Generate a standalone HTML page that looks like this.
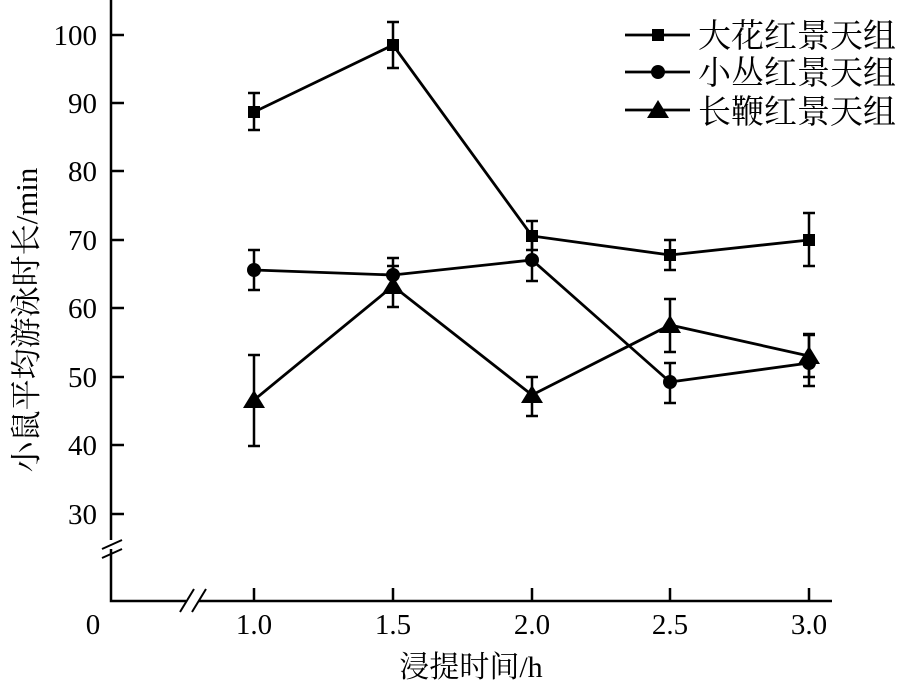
<!DOCTYPE html><html><head><style>body{margin:0;background:#fff}svg text{font-family:"Liberation Serif","Noto Serif CJK SC",serif}</style></head><body>
<svg width="907" height="689" xmlns="http://www.w3.org/2000/svg">
<g stroke="#000" stroke-width="2.5" fill="none">
<path d="M111,0V540M111,549V601H186M199,601H832"/>
<path d="M102,549L122,540M102,558L122,549" stroke-width="2"/>
<path d="M180,612L194,589M192,612L206,589" stroke-width="2"/>
<path d="M111,35h13M111,103h13M111,171h13M111,240h13M111,308h13M111,377h13M111,445h13M111,514h13"/>
<path d="M254,601v-13M393,601v-13M532,601v-13M670,601v-13M809,601v-13"/>
</g>
<g font-size="29" text-anchor="end">
<text x="97" y="45">100</text><text x="97" y="113">90</text><text x="97" y="181">80</text><text x="97" y="250">70</text><text x="97" y="318">60</text><text x="97" y="387">50</text><text x="97" y="455">40</text><text x="97" y="524">30</text></g>
<g font-size="29" text-anchor="middle">
<text x="93" y="634">0</text><text x="254" y="634">1.0</text><text x="393" y="634">1.5</text><text x="532" y="634">2.0</text><text x="670" y="634">2.5</text><text x="809" y="634">3.0</text>
<text x="471" y="677" font-size="30">浸提时间/h</text>
<text transform="translate(37,320) rotate(-90)" font-size="31">小鼠平均游泳时长/min</text></g>
<defs>
<rect id="s" x="-6" y="-6" width="12" height="12" fill="#000"/>
<circle id="c" r="7" fill="#000"/>
<path id="t" d="M0,-10L11,8H-11Z" fill="#000"/>
</defs>
<g stroke="#000" stroke-width="2.8" fill="none">
<polyline points="254,112 393,45 532,236 670,255 809,240"/>
<polyline points="254,270 393,275 532,260 670,382 809,363"/>
<polyline points="254,400 393,286 532,395 670,325 809,356"/>
<g stroke-width="2.5">
<path d="M254,93v37M248,93h12M248,130h12 M393,22v46M387,22h12M387,68h12 M532,221v29M526,221h12M526,250h12 M670,240v30M664,240h12M664,270h12 M809,213v53M803,213h12M803,266h12"/>
<path d="M254,250v40M248,250h12M248,290h12 M393,258v34M387,258h12M387,292h12 M532,240v41M526,240h12M526,281h12 M670,363v40M664,363h12M664,403h12 M809,334v52M803,334h12M803,386h12"/>
<path d="M254,355v91M248,355h12M248,446h12 M393,266v41M387,266h12M387,307h12 M532,377v39M526,377h12M526,416h12 M670,299v53M664,299h12M664,352h12 M809,335v42M803,335h12M803,377h12"/>
</g>
<path d="M625,35h65M625,72h65M625,110h65"/>
</g>
<use href="#s" x="254" y="112"/><use href="#s" x="393" y="45"/><use href="#s" x="532" y="236"/><use href="#s" x="670" y="255"/><use href="#s" x="809" y="240"/>
<use href="#c" x="254" y="270"/><use href="#c" x="393" y="275"/><use href="#c" x="532" y="260"/><use href="#c" x="670" y="382"/><use href="#c" x="809" y="363"/>
<use href="#t" x="254" y="400"/><use href="#t" x="393" y="286"/><use href="#t" x="532" y="395"/><use href="#t" x="670" y="325"/><use href="#t" x="809" y="356"/>
<use href="#s" x="658" y="35"/><use href="#c" x="658" y="72"/><use href="#t" x="658" y="110"/>
<g font-size="33"><text x="698" y="47">大花红景天组</text><text x="698" y="84">小丛红景天组</text><text x="698" y="123">长鞭红景天组</text></g>
</svg></body></html>
